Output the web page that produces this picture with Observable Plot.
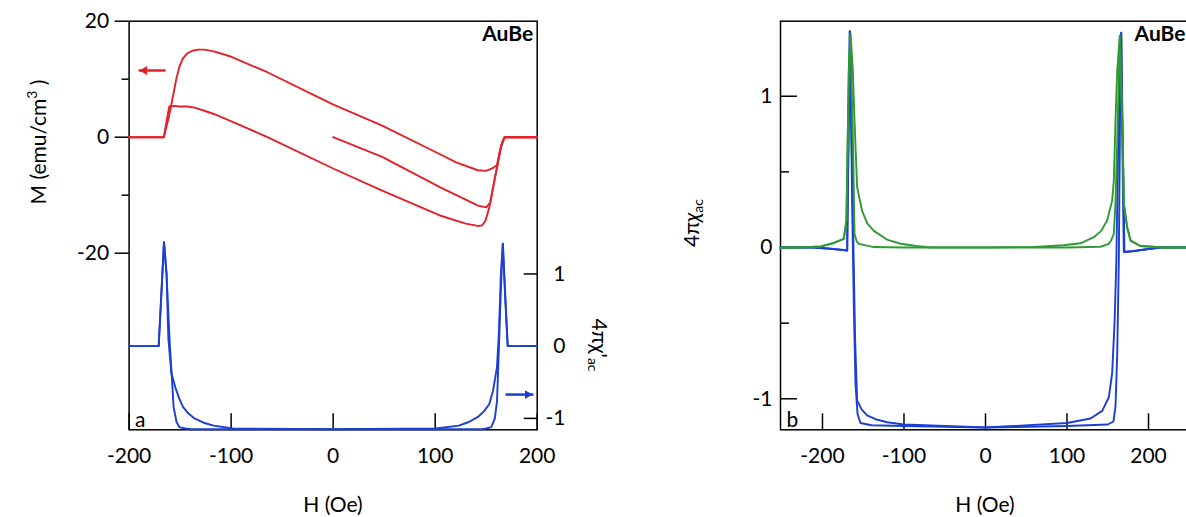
<!DOCTYPE html>
<html><head><meta charset="utf-8">
<script src="https://cdn.jsdelivr.net/npm/d3@7"></script>
<script src="https://cdn.jsdelivr.net/npm/@observablehq/plot@0.6"></script>
<style>
html,body{margin:0;padding:0;background:#fff;overflow:hidden;width:1186px;height:517px;}
#wrap{position:relative;width:1186px;height:517px;overflow:hidden;font-family:Lato,sans-serif;}
.panel{position:absolute;top:0;height:517px;}
.panel svg{position:absolute;left:0;top:0;max-width:none;}
.title{position:absolute;font-size:21px;white-space:nowrap;color:#000;line-height:1;font-family:Lato,sans-serif;}
.rot{transform:translate(-50%,-50%) rotate(-90deg);}
.rotcw{transform:translate(-50%,-50%) rotate(90deg);}
.ctr{transform:translate(-50%,-50%);}
sub{font-size:14px;vertical-align:-4px;}
sup{font-size:14px;vertical-align:9px;}
</style></head><body>
<div id="wrap">
  <div class="panel" id="pA" style="left:0;width:600px;"></div>
  <div class="panel" id="pB" style="left:0;width:600px;"></div>
  <div class="panel" id="pC" style="left:680px;width:560px;"></div>
  <div class="title rot" style="left:36px;top:142px;">M (emu/cm<sup>3</sup> )</div>
  <div class="title ctr" style="left:333px;top:503px;">H (Oe)</div>
  <div class="title rotcw" style="left:598px;top:345px;">4πχ'<sub>ac</sub></div>
  <div class="title rot" style="left:692px;top:223px;">4π<i>χ</i><sub>ac</sub></div>
  <div class="title ctr" style="left:985px;top:503px;">H (Oe)</div>
</div>
<script>
// ---------- Panel a: magnetization M (emu/cm^3) vs H (Oe) ----------
const mVirginH = [0, 48, 104.6, 142, 150, 154, 156.8, 160.6, 164.4, 168, 200];
const mVirginM = [0, -3.4, -8.6, -11.8, -12.1, -11.3, -8.6, -5.2, -1.7, 0, 0];

const mUpH = [-200, -166, -163, -160.6, -155, -150.8, -143, -135.8, -127, -117, -90, -64.4, 0, 48, 104.6, 130, 141.8, 146, 149.3, 153.1, 156.8, 160.6, 164.4, 168, 200];
const mUpM = [0, 0, 3, 5.3, 5.4, 5.3, 5.3, 5.1, 4.6, 4.0, 2.0, 0, -5.4, -9.2, -13.5, -14.9, -15.3, -15.2, -14.4, -12.1, -8.6, -5.2, -1.7, 0, 0];

const mDownH = [200, 168, 165.5, 163, 160.6, 156.8, 150, 141.8, 120, 104.3, 48, -0.75, -64.5, -102, -117, -126, -132, -138, -143.3, -147.5, -150.8, -153.8, -156.5, -161, -166, -200];
const mDownM = [0, 0, -1.0, -2.7, -4.8, -5.3, -5.8, -5.7, -4.3, -2.9, 2.0, 5.7, 11.2, 14.0, 14.8, 15.1, 15.1, 14.9, 14.4, 13.5, 12.1, 10.0, 7.5, 3.5, 0, 0];

// ---------- Panel a: 4πχ'ac (right axis) ----------
const cUpH = [-200, -171, -165.8, -163.3, -160, -158, -156.4, -153.5, -150.8, -145, -139.6, -100, 0, 100.6, 123.1, 133, 141.9, 148, 153.1, 156.8, 160.6, 162.5, 164.4, 166.3, 168.5, 171.1, 200];
const cUpX = [0, 0, 1.44, 1.0, 0.0, -0.45, -0.84, -1.05, -1.12, -1.14, -1.15, -1.15, -1.15, -1.14, -1.10, -1.05, -0.98, -0.90, -0.80, -0.61, -0.29, 0.2, 1.0, 1.42, 0.7, 0, 0];

const cDownH = [200, 171.1, 166.3, 164.4, 162.5, 160.6, 158.5, 155, 150, 145.6, 100, 0, -98.3, -117.1, -127, -135.9, -142, -147.2, -151, -154.7, -158.5, -161.5, -163.3, -165.8, -171, -200];
const cDownX = [0, 0, 1.42, 0.79, -0.02, -0.76, -1.0, -1.12, -1.14, -1.15, -1.15, -1.15, -1.14, -1.10, -1.06, -1.0, -0.93, -0.84, -0.72, -0.57, -0.38, 0.1, 1.0, 1.44, 0, 0];

// ---------- Panel b: 4πχac, blue (χ') and green (χ'') ----------
const bUpH = [-251.5, -211, -190, -172, -169.7, -166.5, -165, -163.6, -161.5, -159.5, -157, -153.4, -140, -100, 0, 100.2, 128.8, 143.2, 151.3, 155.4, 158.3, 160.5, 162.8, 166.5, 168.5, 169.7, 180, 200, 215, 251.5];
const bUpX = [0, 0, -0.008, -0.018, -0.02, 1.43, 0.9, 0.3, -0.4, -0.9, -1.1, -1.16, -1.175, -1.18, -1.19, -1.16, -1.13, -1.08, -0.99, -0.83, -0.5, -0.1, 0.7, 1.42, 0.4, -0.03, -0.025, -0.01, 0, 0];

const bDownH = [251.5, 215, 200, 180, 170.5, 166.5, 165, 163.6, 161.6, 159.5, 157, 150, 100, 0, -100.2, -120.6, -135, -145.2, -152, -157.5, -160, -162, -164.5, -166.5, -169.7, -172, -190, -211, -251.5];
const bDownX = [0, 0, -0.01, -0.025, -0.03, 1.42, 0.84, -0.08, -0.7, -1.05, -1.15, -1.17, -1.18, -1.19, -1.17, -1.155, -1.135, -1.11, -1.07, -1.01, -0.6, 0.0, 0.8, 1.43, -0.02, -0.018, -0.008, 0, 0];

const gUpH = [-251.5, -227, -202, -186, -173.9, -170.6, -167.7, -165.6, -162.3, -160.7, -158, -155.4, -137, -100, 0, 60, 96, 116.6, 132.9, 142, 149.3, 155.4, 157.5, 159.5, 161.6, 164.8, 167.7, 169.7, 173.9, 178, 190, 218, 251.5];
const gUpX = [0, 0, 0.007, 0.03, 0.057, 0.18, 1.17, 1.41, 0.62, 0.09, 0.04, 0.024, 0.003, 0, 0, 0.004, 0.015, 0.028, 0.068, 0.11, 0.18, 0.31, 0.45, 0.84, 1.17, 1.40, 0.84, 0.29, 0.13, 0.046, 0.01, 0, 0];

const gDownH = [251.5, 218, 190, 178, 173.9, 169.7, 167.7, 164.8, 161.6, 159.5, 157.4, 154, 151.3, 141, 100, 0, -67.5, -85, -104, -120, -137, -145, -151.3, -157.5, -160.7, -163, -165.6, -167.7, -170.6, -173.9, -186, -202, -227, -251.5];
const gDownX = [0, 0, 0.01, 0.046, 0.13, 0.29, 0.84, 1.40, 0.7, 0.3, 0.09, 0.045, 0.024, 0.005, 0, 0, 0, 0.01, 0.025, 0.05, 0.11, 0.16, 0.24, 0.40, 0.84, 1.2, 1.41, 1.17, 0.18, 0.057, 0.03, 0.007, 0, 0];

// ---------- ticks & annotations ----------
const xTicksA = [-200, -100, 0, 100, 200];
const mTicksMajor = [-20, 0, 20];
const mTicksMinor = [-10, 10];
const chiTicksA = [-1, 0, 1];
const xTicksB = [-200, -100, 0, 100, 200];
const chiTicksMajorB = [-1, 0, 1];
const chiTicksMinorB = [-0.5, 0.5];
const redArrow = [{h1: -164.2, h2: -190.7, v: 11.5}];
const blueArrow = [{h1: 168.9, h2: 196.4, v: -0.67}];
const sampleName = "AuBe";

const RED = "#e4202a", BLUE = "#1c3fd1", GREEN = "#2f9a33";
const zip = (hs, vs) => hs.map((h, i) => ({H: h, V: vs[i]}));
const fmt = d => String(d);
const common = {
  width: 600, height: 517, marginLeft: 128.6, marginRight: 600 - 536.7, marginTop: 20.7, marginBottom: 517 - 429.3,
  style: {fontFamily: "Lato, sans-serif", fontSize: "21px", background: "transparent", maxWidth: "none", overflow: "visible", color: "black"}
};

const plotA = Plot.plot({
  ...common,
  x: {domain: [-200, 200], label: null},
  y: {domain: [-50.45, 20], label: null},
  marks: [
    Plot.frame({stroke: "black", strokeWidth: 1.5}),
    Plot.axisX({ticks: xTicksA, tickSize: -16, tickPadding: 34, tickFormat: fmt, label: null, strokeWidth: 1.5}),
    Plot.axisY({ticks: mTicksMajor, tickSize: 14, tickPadding: 6, tickFormat: fmt, label: null, strokeWidth: 1.5}),
    Plot.axisY({ticks: mTicksMinor, tickSize: 7, tickFormat: () => "", label: null, strokeWidth: 1.5}),
    Plot.line(zip(mVirginH, mVirginM), {x: "H", y: "V", stroke: RED, strokeWidth: 1.9}),
    Plot.line(zip(mUpH, mUpM), {x: "H", y: "V", stroke: RED, strokeWidth: 1.9}),
    Plot.line(zip(mDownH, mDownM), {x: "H", y: "V", stroke: RED, strokeWidth: 1.9}),
    Plot.link(redArrow, {x1: "h1", x2: "h2", y1: "v", y2: "v", stroke: RED, strokeWidth: 2.5}),
    Plot.dot(redArrow, {x: "h2", y: "v", symbol: "triangle2", r: 4.2, fill: RED, stroke: "none", rotate: -90, dx: 6}),
    Plot.text([sampleName], {frameAnchor: "top-right", textAnchor: "end", lineAnchor: "top", dx: -4, dy: 5, fontWeight: "bold", fontSize: 21}),
    Plot.text(["a"], {frameAnchor: "bottom-left", textAnchor: "start", lineAnchor: "bottom", dx: 6, dy: -3, fontSize: 21})
  ]
});
document.getElementById("pA").appendChild(plotA);

const plotB = Plot.plot({
  ...common,
  x: {domain: [-200, 200], label: null, axis: null},
  y: {domain: [-1.158, 4.50], label: null},
  marks: [
    Plot.axisY({anchor: "right", ticks: chiTicksA, tickSize: -14, tickPadding: 42.3, textAnchor: "end", tickFormat: fmt, label: null, strokeWidth: 1.5}),
    Plot.line(zip(cUpH, cUpX), {x: "H", y: "V", stroke: BLUE, strokeWidth: 1.9}),
    Plot.line(zip(cDownH, cDownX), {x: "H", y: "V", stroke: BLUE, strokeWidth: 1.9}),
    Plot.link(blueArrow, {x1: "h1", x2: "h2", y1: "v", y2: "v", stroke: BLUE, strokeWidth: 2.5}),
    Plot.dot(blueArrow, {x: "h2", y: "v", symbol: "triangle2", r: 4.2, fill: BLUE, stroke: "none", rotate: 90, dx: -6})
  ]
});
document.getElementById("pB").appendChild(plotB);

const plotC = Plot.plot({
  width: 560, height: 517, marginLeft: 100, marginRight: 50, marginTop: 20.7, marginBottom: 517 - 429.3,
  style: {fontFamily: "Lato, sans-serif", fontSize: "21px", background: "transparent", maxWidth: "none", overflow: "visible", color: "black"},
  x: {domain: [-251.5, 251.5], label: null},
  y: {domain: [-1.205, 1.496], label: null},
  marks: [
    Plot.frame({stroke: "black", strokeWidth: 1.5}),
    Plot.axisX({ticks: xTicksB, tickSize: -16, tickPadding: 34, tickFormat: fmt, label: null, strokeWidth: 1.5}),
    Plot.axisY({ticks: chiTicksMajorB, tickSize: -17, tickPadding: 25, tickFormat: fmt, label: null, strokeWidth: 1.5}),
    Plot.axisY({ticks: chiTicksMinorB, tickSize: -9, tickFormat: () => "", label: null, strokeWidth: 1.5}),
    Plot.line(zip(bUpH, bUpX), {x: "H", y: "V", stroke: BLUE, strokeWidth: 1.9}),
    Plot.line(zip(bDownH, bDownX), {x: "H", y: "V", stroke: BLUE, strokeWidth: 1.9}),
    Plot.line(zip(gUpH, gUpX), {x: "H", y: "V", stroke: GREEN, strokeWidth: 1.9}),
    Plot.line(zip(gDownH, gDownX), {x: "H", y: "V", stroke: GREEN, strokeWidth: 1.9}),
    Plot.text([sampleName], {frameAnchor: "top-right", textAnchor: "end", lineAnchor: "top", dx: -5, dy: 5, fontWeight: "bold", fontSize: 21}),
    Plot.text(["b"], {frameAnchor: "bottom-left", textAnchor: "start", lineAnchor: "bottom", dx: 6, dy: -3, fontSize: 21})
  ]
});
document.getElementById("pC").appendChild(plotC);
</script>
</body></html>
